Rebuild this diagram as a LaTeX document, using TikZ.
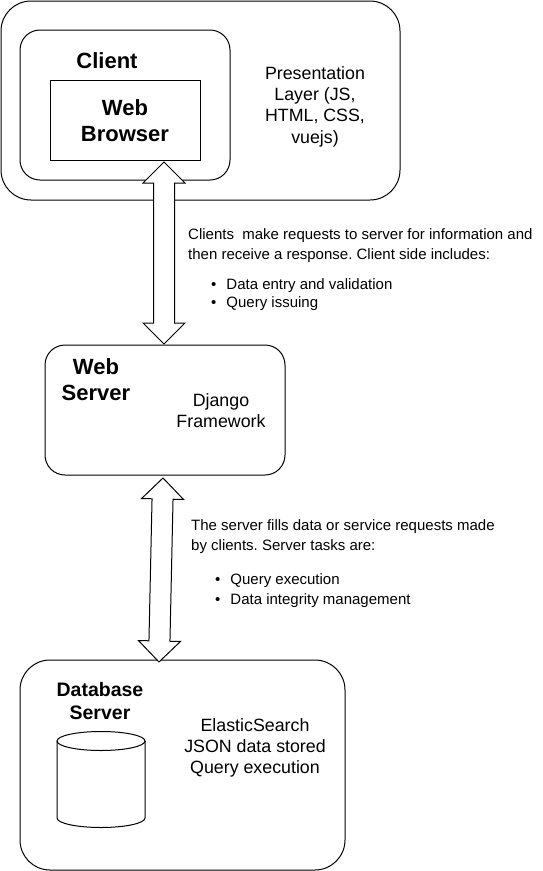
\documentclass[tikz,border=0pt]{standalone}
\usepackage{fontspec}
\setmainfont{Liberation Sans}
\usetikzlibrary{calc}
\frenchspacing
\tikzset{
  frame/.style={draw, line width=1pt, rectangle, inner sep=0pt, fill=white},
  head/.style={font=\fontsize{22}{26}\selectfont\bfseries, align=center, inner sep=0pt},
  dbhead/.style={font=\fontsize{19.5}{23}\selectfont\bfseries, align=center, inner sep=0pt},
  plain/.style={font=\fontsize{17.8}{21.3}\selectfont, align=center, inner sep=0pt},
  note/.style={font=\fontsize{15}{20}\selectfont, align=left, anchor=north west, inner sep=0pt},
  blk/.style={draw, line width=1pt, fill=white, line join=miter},
  thin/.style={line width=1pt}
}
\newcommand\blockarrow[2]{%
  \coordinate (h1) at ($(#1)!21pt!(#2)$);
  \coordinate (h2) at ($(#2)!21pt!(#1)$);
  \draw[blk] (#1) -- ($(h1)!21pt!90:(#2)$) -- ($(h1)!10.5pt!90:(#2)$)
    -- ($(h2)!10.5pt!-90:(#1)$) -- ($(h2)!21pt!-90:(#1)$) -- (#2)
    -- ($(h2)!21pt!90:(#1)$) -- ($(h2)!10.5pt!90:(#1)$)
    -- ($(h1)!10.5pt!-90:(#2)$) -- ($(h1)!21pt!-90:(#2)$) -- cycle;}
\newcommand\bul[2]{\hspace*{#1}\textbullet\hspace{#2}}
\begin{document}
\begin{tikzpicture}[x=1pt, y=-1pt]
\useasboundingbox (0,0) rectangle (542,871);
% top layer
\node[frame, rounded corners=30pt, minimum width=399pt, minimum height=199pt] (outer) at (200.5,100.5) {};
\node[frame, rounded corners=20pt, minimum width=210pt, minimum height=150pt] (client) at (125,105) {};
\node[frame, minimum width=150pt, minimum height=80pt] (browser) at (125,120) {};
\node[head] (clientlbl) at (107,61) {Client};
\node[head] (browserlbl) at (125,121) {Web\\Browser};
\node[plain] (pres) at (315,106.5) {Presentation\\Layer (JS,\\HTML, CSS,\\vuejs)};
% web server
\node[frame, rounded corners=20pt, minimum width=240pt, minimum height=130pt] (web) at (165,410) {};
\node[head] (weblbl) at (96,380) {Web\\Server};
\node[plain] (django) at (221,410.5) {Django\\Framework};
% database server
\node[frame, rounded corners=30pt, minimum width=325pt, minimum height=210pt] (db) at (182.5,765) {};
\node[dbhead] (dblbl) at (100,701) {Database\\Server};
\node[plain] (es) at (255,748) {ElasticSearch\\JSON data stored\\Query execution};
\draw[thin] (57,741) -- (57,818) arc[start angle=180, end angle=360, x radius=44pt, y radius=9.5pt] -- (145,741);
\draw[thin] (101,741) ellipse [x radius=44pt, y radius=9.5pt];
% arrows
\coordinate (a1t) at (164,162);
\coordinate (a1b) at (164,344);
\coordinate (a2t) at (163,478);
\coordinate (a2b) at (159,662);
\blockarrow{a1t}{a1b}
\blockarrow{a2t}{a2b}
% notes
\node[note] (note1) at (188,228.5) {Clients\ \ make requests to server for information and\\
then receive a response. Client side includes:\\[10pt]
\bul{23pt}{10pt}Data entry and validation\\[-2pt]
\bul{23pt}{10pt}Query issuing};
\node[note] (note2) at (191,519.5) {The server fills data or service requests made\\
by clients. Server tasks are:\\[14pt]
\bul{24pt}{10pt}Query execution\\
\bul{24pt}{10pt}Data integrity management};
\end{tikzpicture}
\end{document}
